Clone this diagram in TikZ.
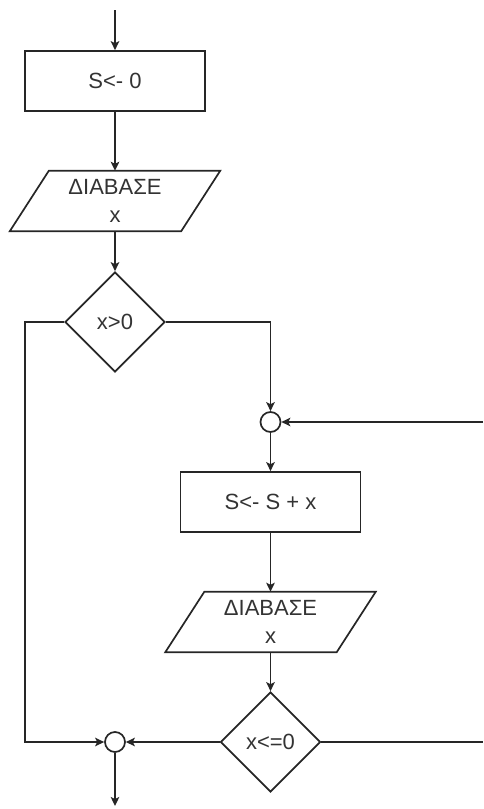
\documentclass[tikz,border=0pt]{standalone}
\usepackage{fontspec}
\setmainfont{Liberation Sans}
\usetikzlibrary{arrows.meta,shapes.geometric,calc}
\begin{document}
\begin{tikzpicture}[x=1pt,y=-1pt,
  line/.style={draw=black!85, line width=1.7pt},
  arr/.style={line, -{Stealth[length=9pt,width=8.5pt,inset=2pt]}},
  txt/.style={font=\fontsize{22}{28}\selectfont, text=black!80},
  procbox/.style={txt, draw=black!85, line width=1.7pt, minimum width=180pt, minimum height=60pt, inner sep=0pt},
  iobox/.style={txt, minimum width=171pt, minimum height=60pt, inner sep=0pt, align=center},
  decbox/.style={txt, diamond, draw=black!85, line width=1.7pt, minimum width=100pt, minimum height=100pt, inner sep=0pt, aspect=1},
  joinpt/.style={circle, draw=black!85, line width=1.7pt, minimum size=20pt, inner sep=0pt, fill=white}
]
\useasboundingbox (0,0) rectangle (483,809);

% nodes
\node[procbox] (b1) at (115,81) {S<- 0};
\node[iobox] (p1) at (115,201) {ΔΙΑΒΑΣΕ\\x};
\node[decbox] (d1) at (115,322) {x>0};
\node[joinpt] (c1) at (270.5,422) {};
\node[procbox] (b2) at (270.5,502) {S<- S + x};
\node[iobox] (p2) at (270.5,622) {ΔΙΑΒΑΣΕ\\x};
\node[decbox] (d2) at (270.5,742) {x<=0};
\node[joinpt] (c2) at (115,742) {};

% parallelogram outlines
\foreach \p in {p1,p2}{
  \draw[line] ($(\p.north west)+(19.5,0)$) -- ($(\p.north east)+(19.5,0)$)
    -- ($(\p.south east)+(-19.5,0)$) -- ($(\p.south west)+(-19.5,0)$) -- cycle;
}

% free ends
\coordinate (top) at (115,10);
\coordinate (lcorner) at (25,742);
\coordinate (rin) at (483,422);
\coordinate (rout) at (483,742);
\coordinate (bot) at (115,806);

% connectors
\draw[arr] (top) -- (b1.north);
\draw[arr] (b1.south) -- (p1.north);
\draw[arr] (p1.south) -- (d1.north);
\draw[arr] (d1.west) -| (lcorner) -- (c2.west);
\draw[arr] (d1.east) -| (c1.north);
\draw[arr] (rin) -- (c1.east);
\draw[arr] (c1.south) -- (b2.north);
\draw[arr] (b2.south) -- (p2.north);
\draw[arr] (p2.south) -- (d2.north);
\draw[arr] (d2.west) -- (c2.east);
\draw[line] (d2.east) -- (rout);
\draw[arr] (c2.south) -- (bot);
\end{tikzpicture}
\end{document}
